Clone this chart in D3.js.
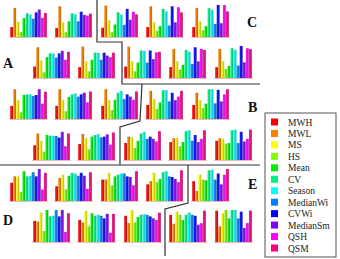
<!DOCTYPE html>
<html>
<head>
<meta charset="utf-8">
<script src="https://cdn.jsdelivr.net/npm/d3@7"></script>
<style>
  body { margin: 0; background: #fff; }
  svg { display: block; }
</style>
</head>
<body>
<div id="chart"></div>
<script>
// variables, in legend order
const categories = ["MWH", "MWL", "MS", "HS", "Mean", "CV", "Season", "MedianWi", "CVWi", "MedianSm", "QSH", "QSM"];
const colors = ["#ff0000", "#ff8000", "#ffff00", "#80ff00", "#00ee00", "#00f080", "#00ffff", "#0080ff", "#0000ff", "#8000ff", "#ff00ff", "#ff0080"];

// bar heights (relative) for each of the five small charts in a row
const row1 = [
  [0.31, 0.91, 0.48, 0.15, 0.59, 0.74, 0.70, 0.57, 0.77, 0.86, 0.60, 0.75],
  [0.28, 0.96, 0.46, 0.15, 0.49, 0.74, 0.71, 0.49, 0.79, 0.69, 0.67, 0.73],
  [0.29, 0.98, 0.52, 0.15, 0.39, 0.77, 0.70, 0.38, 0.88, 0.54, 0.79, 0.71],
  [0.31, 0.96, 0.46, 0.19, 0.34, 0.88, 0.80, 0.36, 0.96, 0.46, 0.93, 0.77],
  [0.31, 0.91, 0.49, 0.21, 0.34, 0.90, 0.85, 0.41, 1.00, 0.43, 1.00, 0.80]
];
const row2 = [
  [0.36, 0.96, 0.55, 0.18, 0.65, 0.77, 0.77, 0.64, 0.77, 0.85, 0.57, 0.82],
  [0.34, 0.98, 0.52, 0.21, 0.57, 0.79, 0.79, 0.57, 0.79, 0.70, 0.65, 0.79],
  [0.36, 0.98, 0.52, 0.21, 0.48, 0.86, 0.85, 0.48, 0.86, 0.59, 0.80, 0.82],
  [0.34, 0.91, 0.52, 0.26, 0.41, 0.88, 0.82, 0.44, 0.96, 0.52, 0.91, 0.88],
  [0.34, 0.91, 0.52, 0.28, 0.38, 0.93, 0.88, 0.39, 1.00, 0.49, 0.93, 0.90]
];
const row3 = [
  [0.41, 0.93, 0.59, 0.21, 0.75, 0.77, 0.77, 0.72, 0.75, 0.93, 0.48, 0.85],
  [0.41, 0.93, 0.59, 0.24, 0.69, 0.77, 0.80, 0.70, 0.77, 0.82, 0.52, 0.86],
  [0.41, 0.93, 0.59, 0.28, 0.60, 0.82, 0.88, 0.62, 0.77, 0.70, 0.60, 0.86],
  [0.44, 0.88, 0.62, 0.31, 0.52, 0.90, 0.90, 0.55, 0.82, 0.59, 0.70, 0.88],
  [0.44, 0.82, 0.59, 0.34, 0.48, 0.93, 0.93, 0.49, 0.91, 0.55, 0.77, 0.93]
];
const row4 = [
  [0.46, 0.83, 0.60, 0.26, 0.78, 0.76, 0.76, 0.75, 0.70, 0.88, 0.43, 0.83],
  [0.50, 0.81, 0.68, 0.33, 0.73, 0.78, 0.81, 0.71, 0.73, 0.80, 0.48, 0.86],
  [0.53, 0.73, 0.71, 0.38, 0.60, 0.83, 0.88, 0.66, 0.73, 0.66, 0.58, 0.90],
  [0.56, 0.68, 0.70, 0.43, 0.56, 0.90, 0.93, 0.60, 0.78, 0.56, 0.66, 0.93],
  [0.60, 0.68, 0.66, 0.51, 0.53, 0.93, 0.95, 0.53, 0.88, 0.58, 0.66, 0.95]
];
const row5 = [
  [0.57, 0.77, 0.77, 0.28, 0.93, 0.77, 0.79, 0.90, 0.77, 1.00, 0.36, 0.88],
  [0.46, 0.72, 0.82, 0.36, 0.79, 0.88, 0.86, 0.79, 0.88, 0.79, 0.38, 0.90],
  [0.67, 0.67, 0.88, 0.49, 0.77, 0.82, 0.86, 0.86, 0.77, 0.75, 0.49, 0.93],
  [0.52, 0.62, 0.88, 0.59, 0.69, 0.90, 0.93, 0.77, 0.75, 0.69, 0.59, 0.96],
  [0.62, 0.31, 0.82, 0.67, 0.65, 0.96, 0.98, 0.67, 0.86, 0.52, 0.82, 1.00]
];
const row6 = [
  [0.66, 0.64, 0.92, 0.34, 1.00, 0.80, 0.82, 1.00, 0.80, 1.00, 0.31, 0.90],
  [0.69, 0.61, 0.97, 0.49, 0.90, 0.82, 0.85, 0.82, 0.74, 0.88, 0.29, 0.88],
  [0.82, 0.59, 1.00, 0.61, 0.78, 0.85, 0.87, 0.85, 0.80, 0.74, 0.69, 0.92],
  [0.85, 0.57, 0.95, 0.85, 0.69, 0.85, 0.92, 0.85, 0.82, 0.54, 0.59, 0.98],
  [0.98, 0.49, 0.90, 1.00, 0.74, 1.00, 1.00, 0.74, 0.95, 0.44, 0.59, 0.98]
];
const rows = [row1, row2, row3, row4, row5, row6];

const groupLabels = ["A", "B", "C", "D", "E"];

const width = 340, height = 259;
const chartW = 37, chartH = 32;

const svg = d3.select("#chart").append("svg")
  .attr("width", width)
  .attr("height", height)
  .style("font-family", "'Liberation Serif', 'DejaVu Serif', serif");

// shaded fills for the bars
const defs = svg.append("defs");
colors.forEach((c, i) => {
  const base = d3.interpolateRgb(c, "#7a7a7a")(0.18);
  const grad = defs.append("linearGradient")
    .attr("id", "bar" + i)
    .attr("x1", "0%").attr("x2", "100%")
    .attr("y1", "0%").attr("y2", "0%");
  grad.append("stop").attr("offset", "0%").attr("stop-color", d3.color(base).brighter(0.5));
  grad.append("stop").attr("offset", "45%").attr("stop-color", base);
  grad.append("stop").attr("offset", "100%").attr("stop-color", d3.color(base).darker(0.7));
});

const x = d3.scaleBand().domain(categories).range([0, chartW]).padding(0.06);
const y = d3.scaleLinear().domain([0, 1]).range([chartH, 0]);

// row layout: odd rows start further left
const rowTop = d3.scaleLinear().domain([0, 5]).range([5, 210]);
const colLeft = [[10, 55, 101, 146, 192], [33, 78, 124, 169, 215]];

rows.forEach((row, r) => {
  row.forEach((vals, c) => {
    const g = svg.append("g")
      .attr("transform", "translate(" + colLeft[r % 2][c] + "," + rowTop(r) + ")");

    g.append("line")
      .attr("x1", -1).attr("x2", chartW + 1)
      .attr("y1", y(0) + 0.5).attr("y2", y(0) + 0.5)
      .attr("stroke", "#f2b8b8")
      .attr("stroke-width", 1);

    g.selectAll("rect")
      .data(vals)
      .join("rect")
      .attr("x", (d, i) => x(categories[i]))
      .attr("y", d => y(d))
      .attr("width", x.bandwidth())
      .attr("height", d => y(0) - y(d))
      .attr("fill", (d, i) => "url(#bar" + i + ")");
  });
});

// group separators
const line = d3.line();
const separators = [
  [[97, 0], [97, 42], [122, 42], [122, 84], [260, 84]],
  [[142, 84], [140, 121], [120, 127], [120, 165]],
  [[0, 165], [260, 165]],
  [[188, 165], [188, 203], [165, 209], [165, 256]]
];
svg.append("g").selectAll("path")
  .data(separators)
  .join("path")
  .attr("d", line)
  .attr("fill", "none")
  .attr("stroke", "#333")
  .attr("stroke-width", 1.2);

// group letters
const labelPos = { A: [3, 68], B: [248, 112], C: [247, 27], D: [3, 225], E: [248, 189] };
svg.append("g").selectAll("text")
  .data(groupLabels)
  .join("text")
  .attr("x", d => labelPos[d][0])
  .attr("y", d => labelPos[d][1])
  .attr("font-size", 14)
  .attr("font-weight", "bold")
  .attr("fill", "#111")
  .text(d => d);

// legend
const legend = svg.append("g").attr("transform", "translate(265,113)");
legend.append("rect")
  .attr("x", 0).attr("y", 0)
  .attr("width", 71).attr("height", 144)
  .attr("fill", "#fff")
  .attr("stroke", "#555")
  .attr("stroke-width", 1);

const ly = d3.scalePoint().domain(categories).range([9, 135]);
const item = legend.selectAll("g.item")
  .data(categories)
  .join("g")
  .attr("class", "item")
  .attr("transform", d => "translate(0," + ly(d) + ")");

item.append("rect")
  .attr("x", 6).attr("y", -3.5)
  .attr("width", 7).attr("height", 7)
  .attr("fill", (d, i) => colors[i]);

item.append("text")
  .attr("x", 23).attr("y", 3.5)
  .attr("font-size", 9.5)
  .attr("fill", "#222")
  .text(d => d);
</script>
</body>
</html>
